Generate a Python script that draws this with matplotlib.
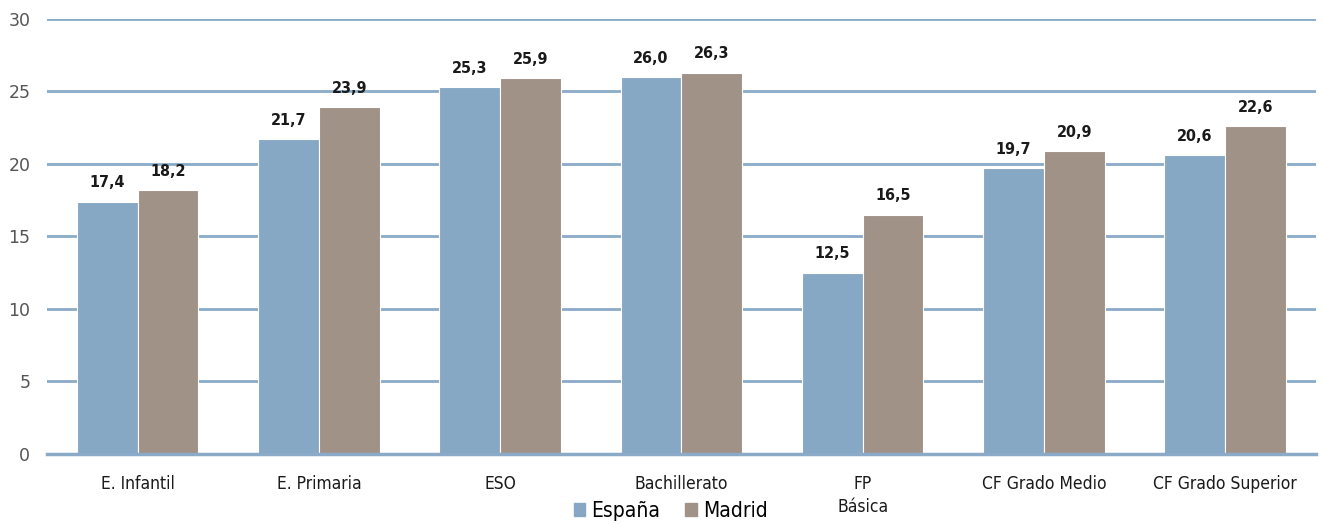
import numpy as np
import matplotlib.pyplot as plt
from matplotlib.patches import Patch

plt.rcParams['font.family'] = ['DejaVu Sans']
plt.rcParams['font.stretch'] = 'condensed'

categorias = ["E. Infantil", "E. Primaria", "ESO", "Bachillerato", "FP\nBásica",
              "CF Grado Medio", "CF Grado Superior"]
espana = [17.4, 21.7, 25.3, 26.0, 12.5, 19.7, 20.6]
madrid = [18.2, 23.9, 25.9, 26.3, 16.5, 20.9, 22.6]

cor_espana = "#87A8C5"
cor_madrid = "#A09287"
cor_grade = "#8AAAC8"

fig = plt.figure(figsize=(13.23, 5.24), dpi=100)
ax = fig.add_axes([0.0355, 0.134, 0.959, 0.83])

x = np.arange(len(categorias))
w = 0.335
b1 = ax.bar(x - w / 2, espana, w, color=cor_espana, edgecolor="white", linewidth=0.8, zorder=3)
b2 = ax.bar(x + w / 2, madrid, w, color=cor_madrid, edgecolor="white", linewidth=0.8, zorder=3)

for barras, vals in [(b1, espana), (b2, madrid)]:
    for b, v in zip(barras, vals):
        ax.annotate(f"{v:.1f}".replace(".", ","), (b.get_x() + b.get_width() / 2, v),
                    xytext=(0, 8), textcoords="offset points", ha="center", va="bottom",
                    fontsize=11.5, fontweight="bold", color="#1a1a1a")

ax.set_xlim(-0.5, len(categorias) - 0.5)
ax.set_ylim(0, 30)
ax.set_yticks(range(0, 31, 5))
ax.yaxis.grid(True, color=cor_grade, linewidth=2, zorder=0)
ax.set_axisbelow(True)
for s in ["top", "right", "left", "bottom"]:
    ax.spines[s].set_visible(False)
ax.axhline(0, color=cor_grade, linewidth=2.5, zorder=4, clip_on=False)

ax.set_xticks(x)
ax.set_xticklabels(categorias, fontsize=12.5, color="#1a1a1a", linespacing=1.35)
ax.tick_params(axis="x", length=0, pad=15)
ax.tick_params(axis="y", length=0, pad=12, labelsize=12.5, labelcolor="#555555")
for t in ax.get_yticklabels():
    t.set_fontstretch('normal')

handles = [Patch(color=cor_espana, label="España"), Patch(color=cor_madrid, label="Madrid")]
fig.legend(handles=handles, loc="lower center", bbox_to_anchor=(0.507, -0.03), ncol=2,
           frameon=False, fontsize=15, handlelength=0.55, handleheight=0.55,
           handletextpad=0.3, columnspacing=1.2)

fig.savefig("out.png", dpi=100)
